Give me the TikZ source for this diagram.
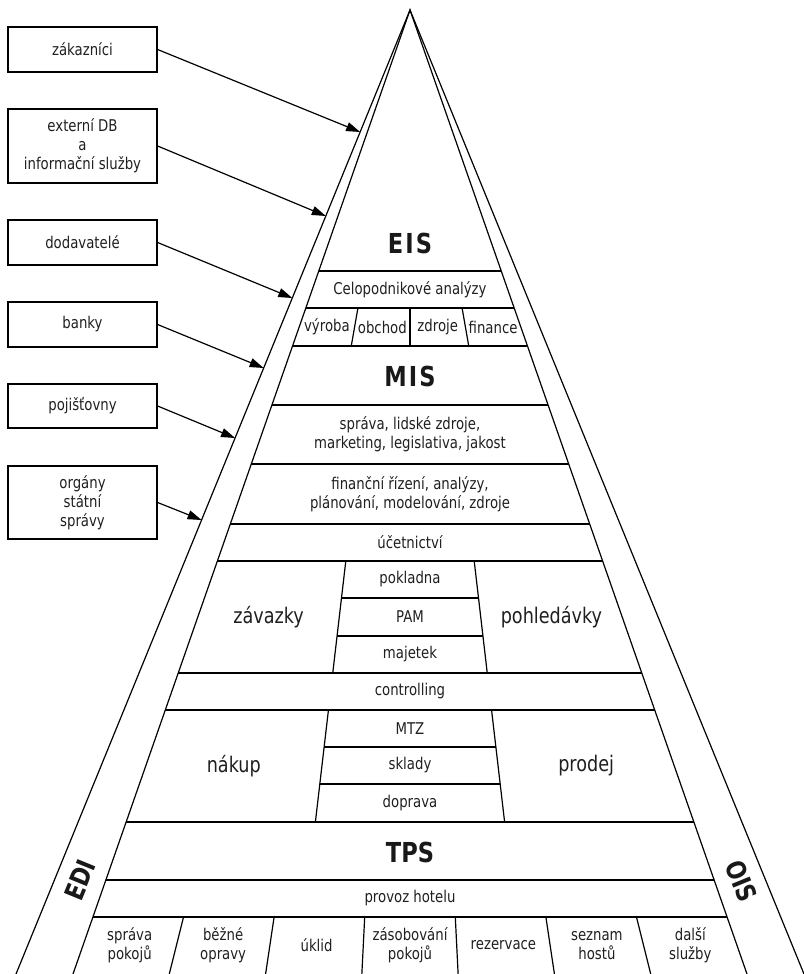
\documentclass[tikz,border=0pt]{standalone}
\usepackage{fontspec}
\setmainfont{DejaVu Sans}[FakeStretch=0.82]
\usetikzlibrary{arrows.meta}
\pgfmathdeclarefunction{px}{2}{\pgfmathparse{410+(2*#1-1)*0.349585*(#2-10)}}
\pgfmathdeclarefunction{ox}{2}{\pgfmathparse{410+(2*#1-1)*0.408714*(#2-10)}}
\begin{document}
\begin{tikzpicture}[x=1pt,y=-1pt,line width=1.2pt,
  txt/.style={font=\fontsize{16.2}{19}\selectfont,align=center,inner sep=0pt,text=black!88},
  bigtxt/.style={font=\fontsize{21.5}{25}\selectfont,inner sep=0pt,text=black!88},
  ttl/.style={font=\bfseries\fontsize{27.5}{30}\selectfont,inner sep=0pt,text=black!90},
  sidettl/.style={font=\bfseries\fontsize{26.5}{30}\selectfont,inner sep=0pt,text=black!90},
  extbox/.style={draw,txt,minimum width=149pt},
  link/.style={-{Triangle[length=14pt,width=9pt]},line width=1.2pt}]
\useasboundingbox (0,0) rectangle (803,974);

% pyramid outlines
\draw ({ox(0,974)},974) -- (410,10) -- ({ox(1,974)},974);
\draw ({px(0,974)},974) -- (410,10) -- ({px(1,974)},974);

% full-width horizontal lines
\foreach \yy in {271,308,346,405,464,524,561,673,710,822,880,917}
  \draw ({px(0,\yy)},\yy) -- ({px(1,\yy)},\yy);
% middle column horizontals
\foreach \yy in {598,636,747,784}
  \draw ({px(1/3,\yy)},\yy) -- ({px(2/3,\yy)},\yy);
% dividers
\foreach \f in {1/4,1/2,3/4}
  \draw ({px(\f,308)},308) -- ({px(\f,346)},346);
\foreach \f in {1/3,2/3}{
  \draw ({px(\f,561)},561) -- ({px(\f,673)},673);
  \draw ({px(\f,710)},710) -- ({px(\f,822)},822);}
\foreach \k in {1,...,6}
  \draw ({px(\k/7,917)},917) -- ({px(\k/7,974)},974);

% titles
\node[ttl] (eis) at (410,243) {E\kern2pt I\kern2pt S};
\node[ttl] (mis) at (410,376) {M\kern2pt I\kern2pt S};
\node[ttl] (tps) at (410,852) {TPS};
\node[sidettl,rotate=67.8] (edi) at (80,880) {EDI};
\node[sidettl,rotate=-67.8] (ois) at (741,881) {OIS};

% cell texts
\node[txt] (celo) at (410,290) {Celopodnikové analýzy};
\foreach \t [count=\i from 0] in {výroba,obchod,zdroje,finance}
  \node[txt] (r\i) at ({px((\i+0.5)/4,327)},327) {\t};
\node[txt] (sprava) at (410,434) {správa, lidské zdroje,\\marketing, legislativa, jakost};
\node[txt] (fin) at (410,494) {finanční řízení, analýzy,\\plánování, modelování, zdroje};
\node[txt] (ucet) at (410,542.5) {účetnictví};
\node[txt] (pokl) at (410,579.5) {pokladna};
\node[txt] (pam) at (410,617) {PAM};
\node[txt] (maj) at (410,654.5) {majetek};
\node[bigtxt] (zav) at ({px(1/6,617)},617) {závazky};
\node[bigtxt] (pohl) at ({px(5/6,617)},617) {pohledávky};
\node[txt] (ctrl) at (410,691.5) {controlling};
\node[txt] (mtz) at (410,728.5) {MTZ};
\node[txt] (skl) at (410,765.5) {sklady};
\node[txt] (dop) at (410,803) {doprava};
\node[bigtxt] (nak) at ({px(1/6,766)},766) {nákup};
\node[bigtxt] (prod) at ({px(5/6,766)},766) {prodej};
\node[txt] (provoz) at (410,898.5) {provoz hotelu};
\foreach \t [count=\i from 0] in {{správa\\pokojů},{běžné\\opravy},{úklid},{zásobování\\pokojů},{rezervace},{seznam\\hostů},{další\\služby}}
  \node[txt] (b\i) at ({px((\i+0.5)/7,945.5)},945.5) {\t};

% external boxes
\node[extbox,minimum height=45pt] (zak) at (82.5,49.5) {zákazníci};
\node[extbox,minimum height=74pt] (ext) at (82.5,146) {externí DB\\a\\informační služby};
\node[extbox,minimum height=45pt] (dod) at (82.5,242.5) {dodavatelé};
\node[extbox,minimum height=45pt] (ban) at (82.5,324.5) {banky};
\node[extbox,minimum height=44pt] (poj) at (82.5,406) {pojišťovny};
\node[extbox,minimum height=73pt] (org) at (82.5,502.5) {orgány\\státní\\správy};

% arrow targets on the outer line
\coordinate (t1) at ({ox(0,132)},132);
\coordinate (t2) at ({ox(0,216)},216);
\coordinate (t3) at ({ox(0,298)},298);
\coordinate (t4) at ({ox(0,368)},368);
\coordinate (t5) at ({ox(0,438)},438);
\coordinate (t6) at ({ox(0,520)},520);
\draw[link] (zak.east) -- (t1);
\draw[link] (ext.east) -- (t2);
\draw[link] (dod.east) -- (t3);
\draw[link] (ban.east) -- (t4);
\draw[link] (poj.east) -- (t5);
\draw[link] (org.east) -- (t6);
\end{tikzpicture}
\end{document}
